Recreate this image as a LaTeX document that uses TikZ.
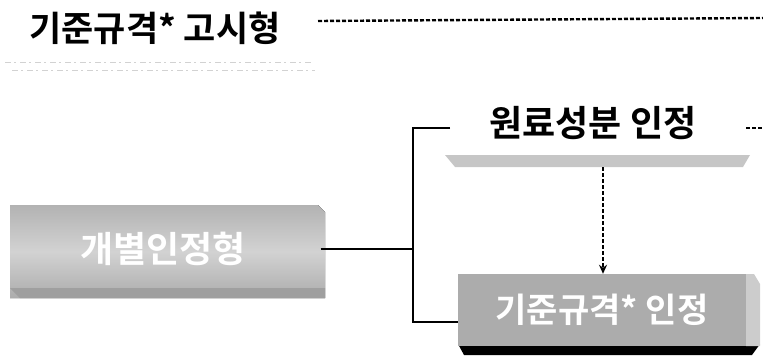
\documentclass[tikz,border=0pt]{standalone}
\usepackage{fontspec}
\newfontfamily\kr{Noto Sans CJK KR}[BoldFont={* Bold}]
\usetikzlibrary{arrows.meta}
\usetikzlibrary{calc}

\begin{document}
\begin{tikzpicture}[x=1pt, y=-1pt, >={Stealth[length=9pt,width=8pt]},
cim/.style={font=\kr\bfseries\fontsize{35}{35}\selectfont, inner sep=0},
felirat/.style={font=\kr\bfseries\fontsize{36}{36}\selectfont, inner sep=0},
doboz/.style={inner sep=0, font=\kr\bfseries\fontsize{34}{34}\selectfont, text=white},
vonal/.style={line width=1.2pt},
pontozott/.style={line width=2.4pt, dash pattern=on 4pt off 2pt},
zaj/.style={gray!35, line width=.8pt, dash pattern=on 6pt off 3pt on 2pt off 4pt}]
\useasboundingbox (0,0) rectangle (763,357);
%%%%%%%%%% TITLE %%%%%%%%%%%
\node[cim] (cim) at (155,28) {기준규격* 고시형};
\coordinate (p1) at (318,21);
\coordinate (p2) at (763,18);
\draw[pontozott] (p1) -- (p2);
\draw[zaj] (5,62) -- (312,62);
\draw[zaj] (12,70) -- (315,70);
%%%%%%%%%% LEFT BOX %%%%%%%%%%%
\fill[top color=gray!60, bottom color=gray!65, middle color=gray!35]
  (10,205) -- (318,205) -- (325,212) -- (325,298) -- (10,298) -- cycle;
\fill[gray!75] (10,288) -- (325,288) -- (325,298) -- (20,298) -- cycle;
\node[doboz, font=\kr\bfseries\fontsize{36}{36}\selectfont, minimum width=315pt, minimum height=93pt] (egyedi) at (163,249) {개별인정형};
%%%%%%%%%% RIGHT SIDE %%%%%%%%%%%
\node[felirat] (nyers) at (593,123) {원료성분 인정};
\coordinate (felso) at (450,128);
\coordinate (ag) at ($(egyedi.east -| 413,0)$);
\coordinate (vege1) at (746,128);
\coordinate (vege2) at (763,128);
\draw[pontozott] (vege1) -- (vege2);
\fill[gray!45] (445,155) -- (750,155) -- (743,167) -- (455,167) -- cycle;
\coordinate (savo) at (603,167);
%%%%%%%%%% BOTTOM BOX %%%%%%%%%%%
\fill[black] (458,344) -- (760,344) -- (752,355) -- (464,355) -- cycle;
\fill[gray!40] (746,274) -- (754,274) -- (760,284) -- (760,346) -- (746,346) -- cycle;
\fill[gray!65] (458,274) rectangle (746,346);
\node[doboz, minimum width=288pt, minimum height=72pt] (kiinto) at (602,310) {기준규격* 인정};
%%%%%%%%%% CONNECTORS %%%%%%%%%%%
\draw[vonal] (egyedi.east) -- (ag);
\draw[vonal] (felso) -| (ag) |- ($(kiinto.west)+(0,12)$);
\draw[pontozott, ->] (savo) -- (savo |- kiinto.north);
\end{tikzpicture}
\end{document}
